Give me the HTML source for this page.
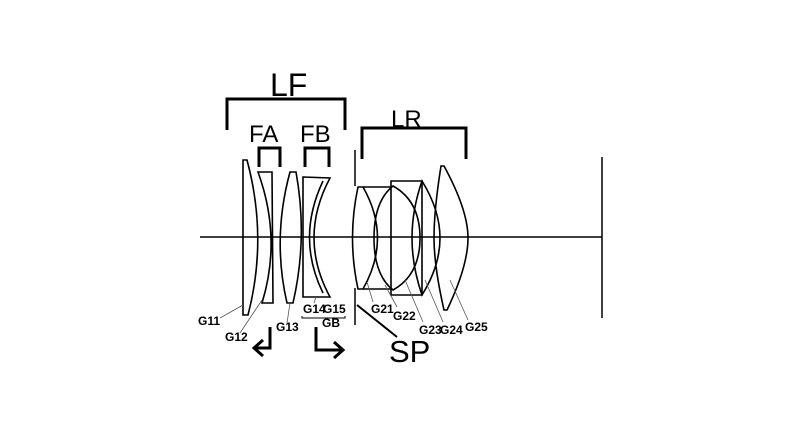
<!DOCTYPE html>
<html><head><meta charset="utf-8"><style>
html,body{margin:0;padding:0;background:#fff;width:800px;height:436px;overflow:hidden}
svg{display:block}
text{font-family:"Liberation Sans",sans-serif;fill:#000}
.s{font-family:"Liberation Sans Narrow","Liberation Sans",sans-serif;font-size:12px;font-weight:bold}
</style></head><body>
<svg width="800" height="436" viewBox="0 0 800 436" xmlns="http://www.w3.org/2000/svg">
<g fill="none" stroke="#000">
<path d="M227,130 V99 H345 V130" stroke-width="3"/>
<path d="M259,167 V148 H280 V167" stroke-width="3"/>
<path d="M305,167 V148 H329 V167" stroke-width="3"/>
<path d="M362,159 V128 H466 V159" stroke-width="3"/>
<line x1="200" y1="237" x2="602" y2="237" stroke-width="1.5"/>
<line x1="602" y1="157" x2="602" y2="318" stroke-width="1.5"/>
<line x1="355" y1="150" x2="355" y2="186" stroke-width="1.5"/>
<line x1="355" y1="288" x2="355" y2="325" stroke-width="1.5"/>
<line x1="357" y1="305" x2="397" y2="337" stroke-width="2"/>
<g stroke-width="1.6">
<path d="M243,160 L247,160 Q268,238 248,315 L243,315 Z"/>
<path d="M258,172 L272,172 L273,303 L262,303 Q282,238 258,172 Z"/>
<path d="M290,172 L296,172 Q308,238 293,303 L287,303 Q272,238 290,172 Z"/>
<path d="M303,177 L330,178 Q298,238 330,297 L303,297 Z"/>
<path d="M323,181 Q296,238 323,293"/>
<path d="M358,187 L363,187 Q392,238 363,289 L358,289 Q347,238 358,187 Z"/>
<path d="M363,187 L391,187 M363,289 L391,289"/>
<path d="M391,187 L391,181 L416,181 L422,181 L422,295 L391,295 Z"/>
<path d="M393,186 Q420,201 420,238 Q420,275 393,290 Q374,275 374,238 Q374,201 393,186 Z"/>
<path d="M422,181 Q440,210 440,238 Q440,266 422,295 Q412,266 412,238 Q412,210 422,181 Z"/>
<path d="M441,166 L444,166 Q468,210 468,238 Q468,266 447,310 L444,310 Q434,266 434,238 Q434,210 441,166 Z"/>
</g>
<g stroke-width="0.8" stroke="#555">
<line x1="243" y1="305" x2="220" y2="318"/>
<line x1="262" y1="300" x2="240" y2="333"/>
<line x1="290" y1="303" x2="287" y2="323"/>
<line x1="316" y1="297" x2="314" y2="303"/>
<line x1="367" y1="282" x2="373" y2="302"/>
<line x1="385" y1="285" x2="397" y2="307"/>
<line x1="405" y1="280" x2="423" y2="322"/>
<line x1="425" y1="280" x2="443" y2="322"/>
<line x1="450" y1="280" x2="468" y2="320"/>
</g>
<path d="M302,316 V318 H345 V316" stroke-width="1"/>
<path d="M270,327 V348 H256" stroke-width="3"/>
<path d="M263,340 L254,348 L263,356" stroke-width="3"/>
<path d="M316,327 V350 H341" stroke-width="3"/>
<path d="M334,342 L343,350 L334,358" stroke-width="3"/>
</g>
<text x="270" y="96" font-size="32">LF</text>
<text x="249" y="142" font-size="24">FA</text>
<text x="300" y="142" font-size="24">FB</text>
<text x="391" y="127" font-size="24">LR</text>
<text x="389" y="362" font-size="31">SP</text>
<text class="s" x="198" y="325">G11</text>
<text class="s" x="225" y="341">G12</text>
<text class="s" x="276" y="331">G13</text>
<text class="s" x="303" y="313">G14</text>
<text class="s" x="323" y="313">G15</text>
<text class="s" x="322" y="327" font-size="10">GB</text>
<text class="s" x="371" y="313">G21</text>
<text class="s" x="393" y="320">G22</text>
<text class="s" x="419" y="334">G23</text>
<text class="s" x="440" y="334">G24</text>
<text class="s" x="465" y="331">G25</text>
</svg>
</body></html>
